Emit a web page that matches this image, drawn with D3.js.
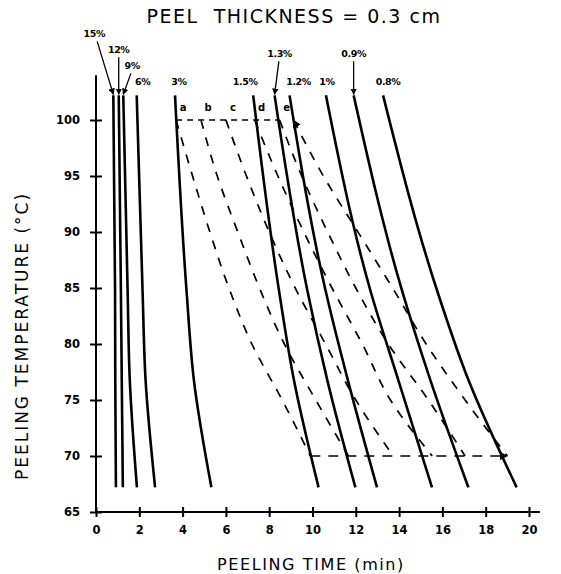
<!DOCTYPE html>
<html>
<head>
<meta charset="utf-8">
<script src="https://cdn.jsdelivr.net/npm/d3@7/dist/d3.min.js"></script>
<style>
body { margin: 0; background: #fff; }
svg text { font-family: "DejaVu Sans", sans-serif; fill: #000; }
</style>
</head>
<body>
<svg id="chart" width="561" height="574"></svg>
<script>
// solid curves: lye concentration, time (min) read at each temperature
const concLabels = ["15%", "12%", "9%", "6%", "3%", "1.5%", "1.3%", "1.2%", "1%", "0.9%", "0.8%"];
const solidTemps = [102.2, 84.8, 76.8, 67.2];
const solidTimes = [
    [0.80, 0.88, 0.89, 0.92],
    [1.05, 1.15, 1.19, 1.24],
    [1.26, 1.46, 1.56, 1.89],
    [1.88, 2.15, 2.29, 2.73],
    [3.65, 4.18, 4.52, 5.33],
    [7.26, 8.45, 9.14, 10.28],
    [8.25, 9.76, 10.68, 11.98],
    [8.94, 10.60, 11.63, 12.98],
    [10.62, 12.67, 13.96, 15.52],
    [11.90, 14.13, 15.44, 17.20],
    [13.26, 15.75, 17.20, 19.43]
];

// dashed curves between 100 and 70 C
const dashLetters = ["a", "b", "c", "d", "e"];
const dashTemps = [100, 95, 90, 85, 80, 75, 70];
const dashTimes = [
    [3.70, 4.46, 5.26, 6.14, 7.20, 8.60, 9.90],
    [4.85, 5.60, 6.55, 7.55, 8.70, 10.15, 11.66],
    [6.00, 6.95, 8.00, 9.20, 10.60, 12.00, 13.73],
    [7.33, 8.40, 9.60, 10.90, 12.30, 13.60, 15.53],
    [8.48, 9.50, 10.70, 12.00, 13.50, 15.35, 17.05],
    [9.12, 10.50, 12.10, 13.70, 15.25, 17.05, 19.00]
];

const xTicks = [0, 2, 4, 6, 8, 10, 12, 14, 16, 18, 20];
const yTicks = [65, 70, 75, 80, 85, 90, 95, 100];

// label placement relative to the top of each curve: [dx, dy, arrow]
const labelLayout = [
    [-19, -58, true], [0, -42, true], [9, -26, true], [6, -10, false],
    [4, -10, false], [-8, -10, false], [5, -38, true], [9, -10, false],
    [1, -10, false], [0, -38, true], [5, -10, false]
];

const svg = d3.select("#chart");

const x = d3.scaleLinear().domain([0, 20]).range([96, 529]);
const y = d3.scaleLinear().domain([65, 100]).range([512, 120]);

const defs = svg.append("defs");
defs.append("marker")
    .attr("id", "arrow")
    .attr("viewBox", "0 0 10 10")
    .attr("refX", 9).attr("refY", 5)
    .attr("markerWidth", 5).attr("markerHeight", 5)
    .attr("orient", "auto-start-reverse")
    .append("path")
    .attr("d", "M0,0 L10,5 L0,10 Z")
    .attr("fill", "#000");

// axes
svg.append("line")
    .attr("x1", x(0)).attr("x2", x(20.5))
    .attr("y1", y(65)).attr("y2", y(65))
    .attr("stroke", "#000").attr("stroke-width", 2);
svg.append("line")
    .attr("x1", x(0)).attr("x2", x(0))
    .attr("y1", y(65)).attr("y2", y(104))
    .attr("stroke", "#000").attr("stroke-width", 2);

const xAxis = svg.append("g")
    .attr("transform", "translate(0," + y(65) + ")")
    .call(d3.axisBottom(x).tickValues(xTicks).tickSize(5).tickFormat(d3.format("d")));
xAxis.select(".domain").remove();
xAxis.selectAll(".tick line").attr("y1", -5).attr("y2", 5).attr("stroke-width", 2);
xAxis.selectAll(".tick text")
    .attr("y", 14)
    .style("font-size", "11.5px").style("font-weight", "bold");

const yAxis = svg.append("g")
    .attr("transform", "translate(" + x(0) + ",0)")
    .call(d3.axisLeft(y).tickValues(yTicks).tickSize(5));
yAxis.select(".domain").remove();
yAxis.selectAll(".tick line").attr("x1", -6).attr("x2", 6).attr("stroke-width", 2);
yAxis.selectAll(".tick text")
    .attr("x", -16)
    .style("font-size", "11.5px").style("font-weight", "bold");

// solid curves
const solidLine = d3.line()
    .x(d => x(d[0]))
    .y(d => y(d[1]))
    .curve(d3.curveMonotoneY);

solidTimes.forEach((times, i) => {
    const pts = times.map((t, j) => [t, solidTemps[j]]);
    svg.append("path")
        .datum(pts)
        .attr("d", solidLine)
        .attr("fill", "none")
        .attr("stroke", "#000")
        .attr("stroke-width", 2.6);

    const tx = x(times[0]), ty = y(solidTemps[0]);
    const lay = labelLayout[i];
    svg.append("text")
        .attr("x", tx + lay[0]).attr("y", ty + lay[1])
        .attr("text-anchor", "middle")
        .style("font-size", "9.5px").style("font-weight", "bold")
        .style("letter-spacing", "-0.4px")
        .text(concLabels[i]);
    if (lay[2]) {
        svg.append("line")
            .attr("x1", tx + lay[0] * 0.85).attr("y1", ty + lay[1] + 4)
            .attr("x2", tx).attr("y2", ty - 1)
            .attr("stroke", "#000").attr("stroke-width", 1.3)
            .attr("marker-end", "url(#arrow)");
    }
});

// dashed curves
const dashLine = d3.line()
    .x(d => x(d[0]))
    .y(d => y(d[1]))
    .curve(d3.curveMonotoneY);

dashTimes.forEach((times, i) => {
    const pts = times.map((t, j) => [t, dashTemps[j]]);
    const p = svg.append("path")
        .datum(pts)
        .attr("d", dashLine)
        .attr("fill", "none")
        .attr("stroke", "#000")
        .attr("stroke-width", 1.7)
        .attr("stroke-dasharray", "9,9");
    if (i === dashTimes.length - 1) p.attr("marker-start", "url(#arrow)");
    if (i < dashLetters.length) {
        svg.append("text")
            .attr("x", x(times[0]) + 7).attr("y", y(100) - 9)
            .attr("text-anchor", "middle")
            .style("font-size", "10px").style("font-weight", "bold")
            .text(dashLetters[i]);
    }
});

// horizontal dashed bounds at 100 and 70
const last = dashTimes.length - 1;
svg.append("line")
    .attr("x1", x(dashTimes[0][0])).attr("x2", x(dashTimes[last - 1][0]))
    .attr("y1", y(100)).attr("y2", y(100))
    .attr("stroke", "#000").attr("stroke-width", 1.7)
    .attr("stroke-dasharray", "6,5");
svg.append("line")
    .attr("x1", x(dashTimes[0][6])).attr("x2", x(dashTimes[last][6]))
    .attr("y1", y(70)).attr("y2", y(70))
    .attr("stroke", "#000").attr("stroke-width", 1.7)
    .attr("stroke-dasharray", "10,8")
    .attr("marker-end", "url(#arrow)");

// titles
svg.append("text")
    .attr("x", 294).attr("y", 23)
    .attr("text-anchor", "middle")
    .style("font-size", "19px")
    .style("letter-spacing", "1.5px")
    .attr("xml:space", "preserve")
    .text("PEEL  THICKNESS = 0.3 cm");

svg.append("text")
    .attr("x", 311).attr("y", 570)
    .attr("text-anchor", "middle")
    .style("font-size", "16px")
    .style("letter-spacing", "1.6px")
    .text("PEELING TIME (min)");

svg.append("text")
    .attr("transform", "translate(28,336) rotate(-90)")
    .attr("text-anchor", "middle")
    .style("font-size", "17px")
    .style("letter-spacing", "2px")
    .text("PEELING TEMPERATURE (°C)");
</script>
</body>
</html>
